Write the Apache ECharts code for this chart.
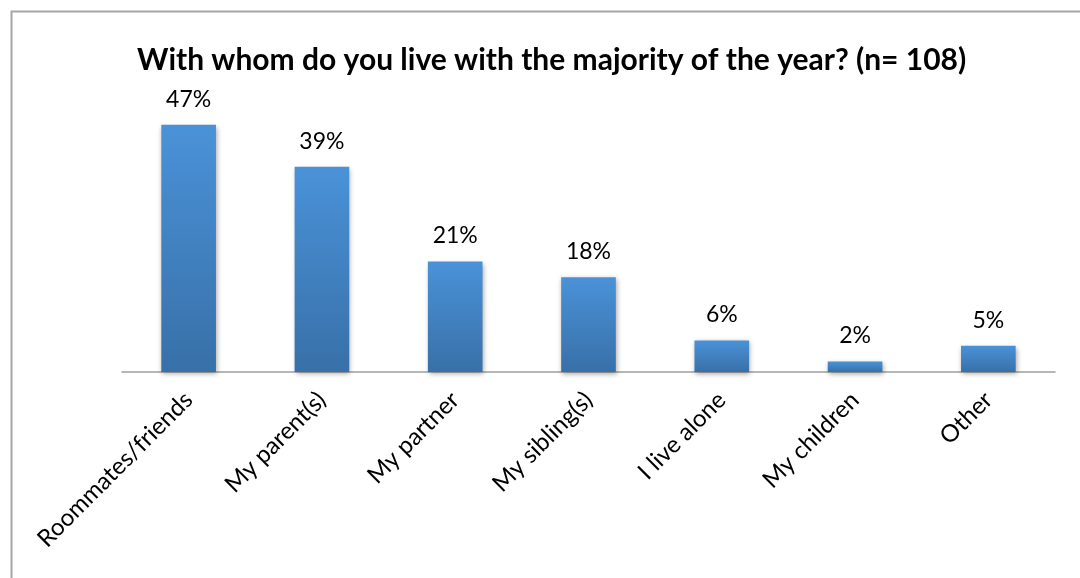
<!DOCTYPE html>
<html>
<head>
<meta charset="utf-8">
<style>
  html, body { margin: 0; padding: 0; background: #ffffff; }
  #chart { width: 1080px; height: 578px; }
</style>
<script src="https://cdn.jsdelivr.net/npm/echarts@6/dist/echarts.min.js"></script>
</head>
<body>
<div id="chart"></div>
<script>
// Living arrangements survey (percent of respondents)
const categories = ['Roommates/friends', 'My parent(s)', 'My partner', 'My sibling(s)', 'I live alone', 'My children', 'Other'];
const shares = [47, 39, 21, 18, 6, 2, 5];
const titleText = 'With whom do you live with the majority of the year? (n= 108)';

const FONT = 'Lato, "Open Sans", sans-serif';

const chart = echarts.init(document.getElementById('chart'), null, { renderer: 'canvas' });

chart.setOption({
  animation: false,
  backgroundColor: '#ffffff',
  title: {
    text: titleText,
    left: 132,
    top: 40,
    textStyle: { fontFamily: FONT, fontWeight: 'bold', fontSize: 30, color: '#000000' }
  },
  graphic: [{
    type: 'rect',
    left: 9,
    top: 9,
    shape: { width: 1100, height: 600 },
    style: { fill: 'none', stroke: '#a6a6a6', lineWidth: 2 },
    silent: true
  }],
  grid: { left: 122, right: 25, top: 109, bottom: 206, containLabel: false },
  xAxis: {
    type: 'category',
    data: categories,
    axisLine: { lineStyle: { color: '#a0a0a0', width: 1.5 } },
    axisTick: { show: false },
    axisLabel: {
      rotate: 45,
      interval: 0,
      margin: 24,
      fontFamily: FONT,
      fontSize: 24,
      color: '#000000'
    }
  },
  yAxis: {
    type: 'value',
    min: 0,
    max: 50,
    show: false,
    splitLine: { show: false }
  },
  series: [{
    type: 'bar',
    data: shares,
    barWidth: '41%',
    itemStyle: {
      color: new echarts.graphic.LinearGradient(0, 0, 0, 1, [
        { offset: 0, color: '#4a92d8' },
        { offset: 1, color: '#3870a8' }
      ]),
      shadowColor: 'rgba(0,0,0,0.35)',
      shadowBlur: 5,
      shadowOffsetX: 1,
      shadowOffsetY: 2
    },
    label: {
      show: true,
      position: 'top',
      distance: 14,
      formatter: '{c}%',
      fontFamily: FONT,
      fontSize: 23,
      color: '#000000'
    }
  }]
});
</script>
</body>
</html>
